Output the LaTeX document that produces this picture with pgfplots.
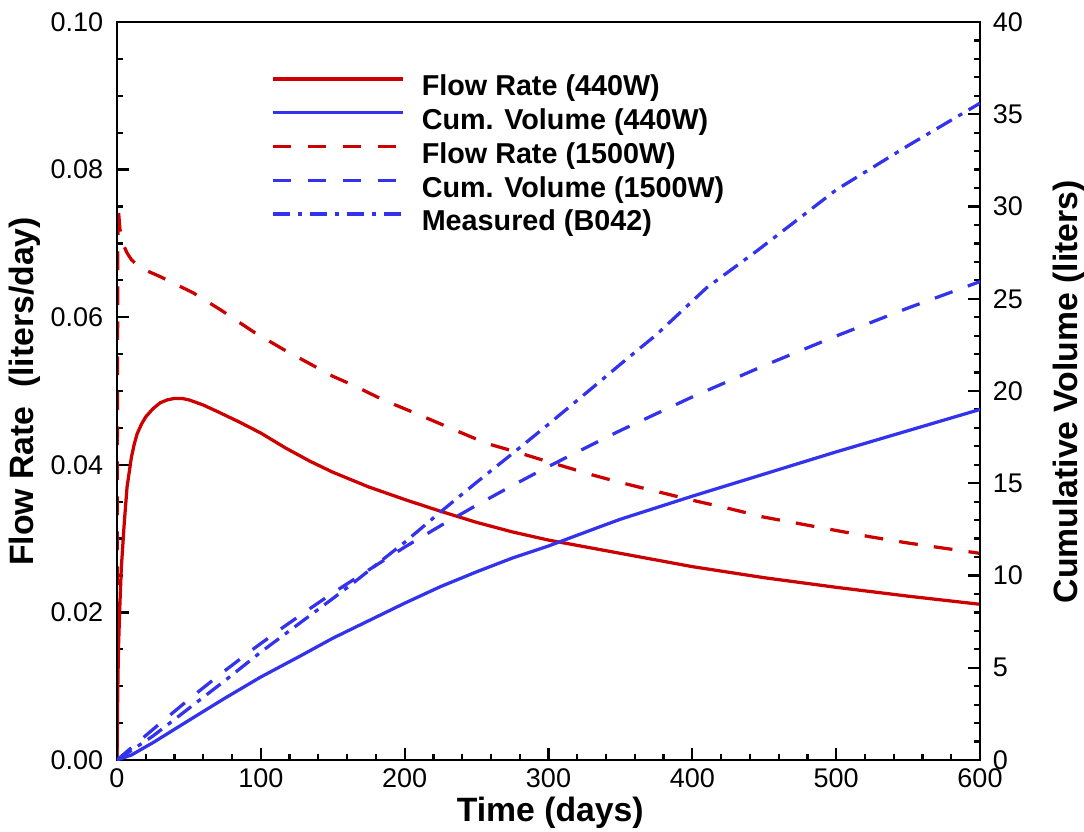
\documentclass[border=0pt]{standalone}
\usepackage{fontspec}
\setmainfont{Liberation Sans}
\usepackage{pgfplots}
\pgfplotsset{compat=1.18}
\definecolor{frred}{HTML}{CC0000}
\definecolor{cvblue}{HTML}{3333EE}

\pgfplotsset{
  common/.style={
    width=345.2pt, height=295.2pt, scale only axis,
    xmin=0, xmax=600,
    axis line style={line width=1.1pt},
    major tick length=4.8pt, minor tick length=2.4pt,
    tick style={black, line width=0.9pt},
    tick align=inside,
    ticklabel style={font=\fontsize{10.8}{13}\selectfont},
    /pgf/number format/assume math mode=true,
  },
}
\newcommand{\labfont}{\bfseries\fontsize{13.5}{16}\selectfont}

\begin{document}
\begin{tikzpicture}
% left axis: flow rates
\begin{axis}[common, name=ax,
  ymin=0, ymax=0.1,
  xtick={0,100,...,600}, minor x tick num=4,
  ytick={0,0.02,0.04,0.06,0.08,0.1}, minor y tick num=3,
  scaled y ticks=false,
  xtick pos=bottom, ytick pos=left,
  yticklabel style={/pgf/number format/fixed, /pgf/number format/fixed zerofill,
    /pgf/number format/precision=2, xshift=-2pt},
  xlabel={Time (days)},
  ylabel={Flow Rate~ (liters/day)},
  every axis x label/.style={at={(axis description cs:0.502,-0.084)}, anchor=base, font=\labfont},
  every axis y label/.style={at={(axis description cs:-0.0968,0.4993)}, rotate=90, anchor=base, font=\labfont},
]
% Flow Rate (440W)
\addplot[frred, line width=1.3pt] coordinates {
  (0,0) (0.5,0.009) (1,0.015) (2,0.021) (3,0.026) (5,0.032) (7,0.0370)
  (10,0.0410) (12,0.0428) (14,0.0442) (17,0.0455) (20,0.0465) (25,0.0476)
  (30,0.0484) (35,0.0488) (40,0.0490) (45,0.0490) (50,0.0488) (60,0.0481)
  (70,0.0472) (85,0.0458) (100,0.0443) (117,0.0423) (134,0.0405)
  (150,0.0390) (175,0.0370) (200,0.0353) (225,0.0337) (250,0.0322)
  (275,0.0309) (300,0.0298) (325,0.0289) (350,0.0280) (375,0.0271)
  (400,0.0262) (450,0.0247) (500,0.0234) (550,0.0222) (600,0.0211)
};
% Flow Rate (1500W)
\addplot[frred, line width=1.3pt, dash pattern=on 7.5pt off 6.5pt] coordinates {
  (0,0) (0.3,0.050) (0.7,0.075) (1,0.0745) (2,0.0720) (4,0.0700) (7,0.0687)
  (10,0.0678) (16,0.0667) (30,0.0655) (53,0.0633) (72,0.0610) (95,0.0580)
  (116,0.0556) (134,0.0537) (150,0.0520) (164,0.0508) (185,0.0488)
  (211,0.0467) (235,0.0447) (257,0.0429) (280,0.0416) (300,0.0404)
  (331,0.0386) (350,0.0376) (375,0.0364) (400,0.0352) (425,0.0341)
  (450,0.0329) (475,0.0320) (500,0.0311) (525,0.0302) (550,0.0294)
  (575,0.0287) (600,0.0280)
};
\end{axis}

% right axis: cumulative volumes
\begin{axis}[common,
  ymin=0, ymax=40,
  xtick=\empty,
  ytick={0,5,...,40}, minor y tick num=4,
  ytick pos=right, yticklabel pos=right,
  yticklabel style={xshift=1.6pt},
  ylabel={Cumulative Volume (liters)},
  every axis y label/.style={at={(axis description cs:1.1124,0.499)}, rotate=90, anchor=base, font=\labfont},
  legend image code/.code={\draw[#1] (0pt,4pt) -- (52pt,4pt);},
  legend cell align=left,
  legend style={at={(axis description cs:0.1785,0.9320)}, anchor=north west,
    draw=none, fill=none, inner sep=0pt, outer sep=0pt, row sep=0pt,
    font=\bfseries\fontsize{11.5}{13.5}\selectfont,
    nodes={inner sep=0pt, text height=9.5pt, text depth=4pt},
    /tikz/every odd column/.append style={column sep=7pt}},
]
\addlegendimage{frred, line width=1.3pt}
\addlegendentry{Flow Rate (440W)}
% Cum. Volume (440W)
\addplot[cvblue, line width=1.3pt] coordinates {
  (0,0) (10,0.27) (25,0.94) (50,2.15) (75,3.35) (100,4.50) (127,5.62)
  (150,6.60) (175,7.55) (200,8.50) (225,9.40) (250,10.20) (275,10.95)
  (300,11.60) (336,12.65) (350,13.05) (400,14.30) (450,15.50) (500,16.70)
  (550,17.85) (600,19.00)
};
\addlegendentry{Cum. Volume (440W)}
\addlegendimage{frred, line width=1.3pt, dash pattern=on 7.5pt off 6.5pt}
\addlegendentry{Flow Rate (1500W)}
% Cum. Volume (1500W)
\addplot[cvblue, line width=1.3pt, dash pattern=on 7.5pt off 6.5pt] coordinates {
  (0,0) (10,0.665) (30,1.99) (53,3.48) (72,4.66) (95,6.03) (116,7.22)
  (134,8.20) (150,9.05) (175,10.30) (200,11.54) (225,12.70) (250,13.81)
  (275,14.88) (300,15.91) (336,17.32) (350,17.86) (400,19.68) (450,21.38)
  (500,22.98) (550,24.50) (600,25.93)
};
\addlegendentry{Cum. Volume (1500W)}
% Measured (B042)
\addplot[cvblue, line width=1.3pt, dash pattern=on 7pt off 3pt on 1.8pt off 3pt] coordinates {
  (0,0) (25,1.30) (50,2.80) (75,4.30) (100,5.85) (125,7.30) (150,8.75)
  (164,9.58) (200,11.80) (225,13.45) (250,15.05) (278,16.80) (300,18.20)
  (334,20.40) (350,21.45) (375,23.05) (410,25.60) (445,27.60) (475,29.40)
  (500,30.90) (525,32.10) (550,33.30) (575,34.45) (600,35.60)
};
\addlegendentry{Measured (B042)}
\end{axis}

\pgfresetboundingbox
\path ([xshift=-46.8pt,yshift=-28.4pt]ax.south west)
  rectangle ([xshift=41.6pt,yshift=8.8pt]ax.north east);
\end{tikzpicture}
\end{document}
